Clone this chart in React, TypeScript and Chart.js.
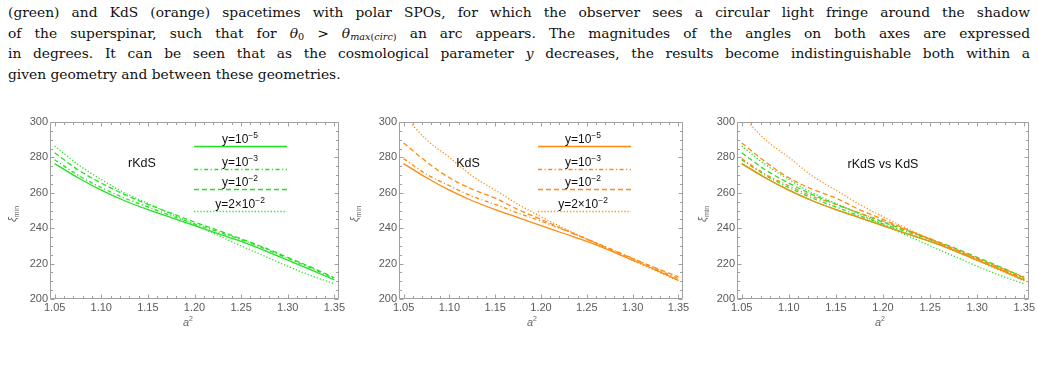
import React, { useEffect, useRef } from "react";
import { Chart, registerables } from "chart.js";
Chart.register(...registerables);

// ---------- data ----------
const aSquared = [1.05, 1.075, 1.1, 1.125, 1.15, 1.175, 1.2, 1.225, 1.25, 1.275, 1.3, 1.325, 1.35];

// rKdS (green)
const rkds_y1e5 = [276.5, 268.5, 261.5, 255.5, 250.5, 246, 241.5, 237, 232.5, 227.5, 222, 216.5, 210.8];
const rkds_y1e3 = [278.7, 270, 263, 257, 252, 247, 242.5, 238, 233.5, 228.5, 223, 217.5, 211.5];
const rkds_y1e2 = [282.6, 273, 265.5, 259, 253.5, 248.5, 243.5, 238.8, 234, 229, 223.5, 218, 212];
const rkds_y2e2 = [286.5, 276, 267.5, 260, 254, 248, 242, 236, 230, 224.3, 218.5, 213.2, 208.6];

// KdS (orange)
const kds_y1e5 = [276.5, 268.5, 261.5, 255.5, 250.5, 246, 241.5, 237, 232.5, 227.5, 222, 216.5, 210.5];
const kds_y1e3 = [279.3, 270.5, 264, 258, 253.5, 248.5, 244, 239, 234, 228.5, 223, 217.2, 211.5];
const kds_y1e2 = [288.2, 277.5, 268.5, 262, 257, 250.5, 245, 239.3, 233.8, 228.3, 222.8, 217.6, 212.5];
const kds_y2e2 = [304, 290, 280, 269.5, 261.5, 253.5, 246.5, 240, 233.8, 227.8, 221.8, 216, 210.3];

const xTicks = [1.05, 1.1, 1.15, 1.2, 1.25, 1.3, 1.35];
const yTicks = [200, 220, 240, 260, 280, 300];
const legendExponents = ["−5", "−3", "−2", "−2"];
const legendPrefixes = ["y=10", "y=10", "y=10", "y=2×10"];

const GREEN = "#22e322";
const ORANGE = "#ff8a10";
const DASH_PATTERNS = [[], [4, 2.5, 1.2, 2.5], [5, 3], [1.2, 2]];

const X_MIN = 1.045;
const X_MAX = 1.355;
const Y_MIN = 200;
const Y_MAX = 300;

const PLOT_TOP = 122;
const PLOT_H = 177;
const CANVAS_TOP = 112;
const CANVAS_H = 240;

function makeSeries(values: number[], color: string, dashIdx: number, label: string) {
  return {
    label,
    data: aSquared.map((a, i) => ({ x: a, y: values[i] })),
    borderColor: color,
    backgroundColor: color,
    borderWidth: 1.3,
    borderDash: DASH_PATTERNS[dashIdx],
    pointRadius: 0,
    fill: false,
    cubicInterpolationMode: "monotone" as const,
    clip: 0,
  };
}

const greenSeries = () => [
  makeSeries(rkds_y1e5, GREEN, 0, "rKdS y=1e-5"),
  makeSeries(rkds_y1e3, GREEN, 1, "rKdS y=1e-3"),
  makeSeries(rkds_y1e2, GREEN, 2, "rKdS y=1e-2"),
  makeSeries(rkds_y2e2, GREEN, 3, "rKdS y=2e-2"),
];
const orangeSeries = () => [
  makeSeries(kds_y1e5, ORANGE, 0, "KdS y=1e-5"),
  makeSeries(kds_y1e3, ORANGE, 1, "KdS y=1e-3"),
  makeSeries(kds_y1e2, ORANGE, 2, "KdS y=1e-2"),
  makeSeries(kds_y2e2, ORANGE, 3, "KdS y=2e-2"),
];

const framePlugin = {
  id: "frame",
  afterDatasetsDraw(chart: any, _args: any, opts: any) {
    const { ctx, chartArea: a, scales } = chart;
    const xs = scales.x;
    const ys = scales.y;
    ctx.save();
    ctx.strokeStyle = "#a0a0a0";
    ctx.lineWidth = 1;
    const L = Math.round(a.left) + 0.5;
    const R = Math.round(a.right) - 0.5;
    const T = Math.round(a.top) + 0.5;
    const B = Math.round(a.bottom) - 0.5;
    ctx.beginPath();
    ctx.rect(L, T, R - L, B - T);
    ctx.stroke();
    ctx.beginPath();
    for (let k = 105; k <= 135; k++) {
      const v = k / 100;
      const major = k % 5 === 0;
      const len = major ? 4 : 2.5;
      const px = Math.round(xs.getPixelForValue(v)) + 0.5;
      ctx.moveTo(px, B);
      ctx.lineTo(px, B - len);
      ctx.moveTo(px, T);
      ctx.lineTo(px, T + len);
    }
    for (let v = 200; v <= 300; v += 5) {
      const major = v % 20 === 0;
      const len = major ? 4 : 2.5;
      const py = Math.round(ys.getPixelForValue(v)) + 0.5;
      ctx.moveTo(L, py);
      ctx.lineTo(L + len, py);
      ctx.moveTo(R, py);
      ctx.lineTo(R - len, py);
    }
    ctx.stroke();
    ctx.restore();

    if (opts && opts.legend) {
      const lg = opts.legend;
      ctx.save();
      ctx.strokeStyle = lg.color;
      ctx.lineWidth = 1.3;
      lg.rows.forEach((yy: number, i: number) => {
        ctx.setLineDash(DASH_PATTERNS[i]);
        ctx.beginPath();
        ctx.moveTo(lg.x1, yy + 0.5);
        ctx.lineTo(lg.x2, yy + 0.5);
        ctx.stroke();
      });
      ctx.restore();
    }
  },
};

type PanelProps = {
  plotLeft: number;
  plotWidth: number;
  datasets: any[];
  legend?: { x1: number; x2: number; rows: number[]; color: string; labelX: number };
  note: string;
  noteX: number;
  noteY: number;
  yTitleX: number;
  xTitleX: number;
};

function Panel(p: PanelProps) {
  const ref = useRef<HTMLCanvasElement | null>(null);
  const canvasLeft = p.plotLeft - 50;
  const canvasW = p.plotWidth + 60;

  useEffect(() => {
    if (!ref.current) return;
    const legendOpt = p.legend
      ? {
          x1: p.legend.x1 - canvasLeft,
          x2: p.legend.x2 - canvasLeft,
          rows: p.legend.rows.map((r) => r - CANVAS_TOP),
          color: p.legend.color,
        }
      : null;
    const chart = new Chart(ref.current, {
      type: "line",
      data: { datasets: p.datasets },
      plugins: [framePlugin],
      options: {
        animation: false,
        responsive: false,
        devicePixelRatio: 1,
        layout: { padding: { top: PLOT_TOP - CANVAS_TOP, right: 10, left: 0, bottom: 0 } },
        plugins: {
          legend: { display: false },
          tooltip: { enabled: false },
          frame: { legend: legendOpt },
        } as any,
        scales: {
          x: {
            type: "linear",
            min: X_MIN,
            max: X_MAX,
            afterFit: (s: any) => {
              s.height = CANVAS_H - (PLOT_TOP - CANVAS_TOP) - PLOT_H;
            },
            afterBuildTicks: (s: any) => {
              s.ticks = xTicks.map((v) => ({ value: v }));
            },
            grid: { display: true, drawOnChartArea: false, drawTicks: false },
            border: { display: false },
            ticks: {
              padding: 2,
              color: "#5a5a5a",
              font: { family: "'Liberation Sans', Arial, sans-serif", size: 11 },
              maxRotation: 0,
              autoSkip: false,
              callback: (v: any) => Number(v).toFixed(2),
            },
          },
          y: {
            type: "linear",
            min: Y_MIN,
            max: Y_MAX,
            afterFit: (s: any) => {
              s.width = 50;
            },
            afterBuildTicks: (s: any) => {
              s.ticks = yTicks.map((v) => ({ value: v }));
            },
            grid: { display: true, drawOnChartArea: false, drawTicks: false },
            border: { display: false },
            ticks: {
              padding: 2,
              color: "#5a5a5a",
              font: { family: "'Liberation Sans', Arial, sans-serif", size: 11 },
              callback: (v: any) => String(v),
            },
          },
        },
      },
    });
    return () => chart.destroy();
  }, []);

  const sans = "'Liberation Sans', Arial, sans-serif";
  return (
    <>
      <canvas
        ref={ref}
        width={canvasW}
        height={CANVAS_H}
        style={{ position: "absolute", left: canvasLeft, top: CANVAS_TOP, width: canvasW, height: CANVAS_H }}
      />
      <div
        style={{
          position: "absolute",
          left: p.yTitleX,
          top: 214,
          transform: "translate(-50%, -50%) rotate(-90deg)",
          fontFamily: sans,
          fontSize: 10,
          color: "#666",
          whiteSpace: "nowrap",
          lineHeight: "10px",
        }}
      >
        <i style={{ fontSize: 11 }}>ξ</i>
        <span style={{ fontSize: 7, position: "relative", top: 3 }}>min</span>
      </div>
      <div
        style={{
          position: "absolute",
          left: p.xTitleX,
          top: 323,
          transform: "translate(-50%, -50%)",
          fontFamily: sans,
          fontSize: 11,
          color: "#666",
          whiteSpace: "nowrap",
          lineHeight: "11px",
        }}
      >
        <i>a</i>
        <span style={{ fontSize: 7, position: "relative", top: -5 }}>2</span>
      </div>
      <div
        style={{
          position: "absolute",
          left: p.noteX,
          top: p.noteY,
          transform: "translate(-50%, -50%)",
          fontFamily: sans,
          fontSize: 12.5,
          color: "#111",
          whiteSpace: "nowrap",
          lineHeight: "13px",
        }}
      >
        {p.note}
      </div>
      {p.legend &&
        p.legend.rows.map((r, i) => (
          <div
            key={i}
            style={{
              position: "absolute",
              left: p.legend!.labelX,
              top: r - 7,
              transform: "translate(-50%, -50%)",
              fontFamily: sans,
              fontSize: 12,
              color: "#111",
              whiteSpace: "nowrap",
              lineHeight: "12px",
            }}
          >
            {legendPrefixes[i]}
            <span style={{ fontSize: 8.5, position: "relative", top: -5 }}>{legendExponents[i]}</span>
          </div>
        ))}
    </>
  );
}

const serif = "'DejaVu Serif', serif";
const lineStyle = (top: number, justify: boolean): React.CSSProperties => ({
  position: "absolute",
  left: 8,
  top,
  width: 1022,
  fontFamily: serif,
  fontSize: 13.8,
  lineHeight: "20px",
  color: "#111",
  whiteSpace: justify ? "normal" : "nowrap",
  textAlign: justify ? "justify" : "left",
  textAlignLast: justify ? "justify" : "left",
});
const subStyle: React.CSSProperties = { fontSize: "0.7em", position: "relative", top: "0.3em", lineHeight: 0 };

export default function App() {
  const legendRows = [146, 169, 189, 211];
  return (
    <div
      style={{
        position: "fixed",
        left: 0,
        top: 0,
        width: 1038,
        height: 367,
        background: "#fff",
        overflow: "hidden",
      }}
    >
      <div style={lineStyle(1.8, true)}>
        (green) and KdS (orange) spacetimes with polar SPOs, for which the observer sees a circular light fringe around the shadow
      </div>
      <div style={lineStyle(22.5, true)}>
        of the superspinar, such that for <i>θ</i>
        <span style={subStyle}>0</span> &gt; <i>θ</i>
        <span style={subStyle}>
          <i>max</i>(<i>circ</i>)
        </span>{" "}
        an arc appears. The magnitudes of the angles on both axes are expressed
      </div>
      <div style={lineStyle(42.8, true)}>
        in degrees. It can be seen that as the cosmological parameter <i>y</i> decreases, the results become indistinguishable both within a
      </div>
      <div style={lineStyle(63.5, false)}>given geometry and between these geometries.</div>

      <Panel
        plotLeft={50}
        plotWidth={289}
        datasets={greenSeries()}
        legend={{ x1: 194, x2: 287, rows: legendRows, color: GREEN, labelX: 240 }}
        note="rKdS"
        noteX={142}
        noteY={163}
        yTitleX={13}
        xTitleX={188}
      />
      <Panel
        plotLeft={399}
        plotWidth={284}
        datasets={orangeSeries()}
        legend={{ x1: 538, x2: 631, rows: legendRows, color: ORANGE, labelX: 583 }}
        note="KdS"
        noteX={468}
        noteY={163}
        yTitleX={355}
        xTitleX={532}
      />
      <Panel
        plotLeft={737}
        plotWidth={292}
        datasets={[...orangeSeries(), ...greenSeries()]}
        note="rKdS vs KdS"
        noteX={883}
        noteY={164}
        yTitleX={703}
        xTitleX={880}
      />
    </div>
  );
}
